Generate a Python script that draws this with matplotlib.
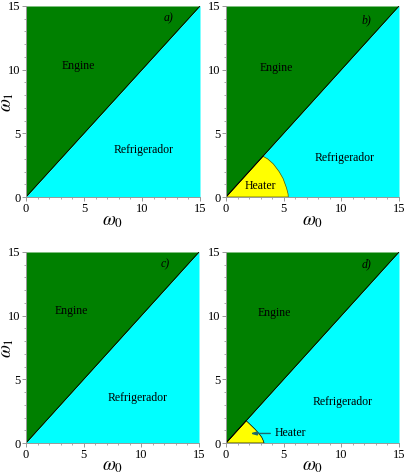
import matplotlib
matplotlib.use("Agg")
import matplotlib.pyplot as plt
import numpy as np
from matplotlib.ticker import MultipleLocator

plt.rcParams['font.family'] = ['Liberation Serif', 'DejaVu Serif']
plt.rcParams['mathtext.fontset'] = 'stix'

# Data
lim = [0, 15]
diag_w0 = [0, 15]
diag_w1 = [0, 15]
ticks = [0, 5, 10, 15]
panel_labels = ['a)', 'b)', 'c)', 'd)']

# Heater boundaries (omega0, omega1)
heater_b_w0 = [0, 3.2, 3.6, 4.1, 4.6, 4.95, 5.25, 5.38, 5.4]
heater_b_w1 = [0, 3.2, 3.0, 2.6, 2.0, 1.45, 0.7, 0.25, 0]
heater_d_w0 = [0, 1.75, 2.1, 2.5, 2.85, 3.1, 3.25, 3.3]
heater_d_w1 = [0, 1.75, 1.45, 1.1, 0.75, 0.45, 0.15, 0]

# label positions (data coords)
engine_pos = [(4.5, 10.3), (4.4, 10.1), (3.9, 10.4), (4.2, 10.2)]
refr_pos = [(10.1, 3.7), (10.3, 3.1), (9.7, 3.5), (10.1, 3.2)]
tag_pos = [(12.3, 14.0), (12.2, 13.9), (12.1, 14.0), (12.2, 14.0)]

GREEN = '#008000'
CYAN = '#00ffff'
YELLOW = '#ffff00'

fig = plt.figure(figsize=(4.07, 4.75), dpi=100)
W, H = 407, 475
boxes = [(26, 6, 200, 197), (226, 6, 399, 197), (26, 252, 199, 443), (226, 252, 399, 443)]
axes = []
for (x0, y0, x1, y1) in boxes:
    ax = fig.add_axes([x0 / W, 1 - y1 / H, (x1 - x0) / W, (y1 - y0) / H])
    axes.append(ax)

x = np.array(diag_w0, dtype=float)
for i, ax in enumerate(axes):
    ax.fill_between(x, np.array(diag_w1), lim[1], color=GREEN, linewidth=0)
    ax.fill_between(x, lim[0], np.array(diag_w1), color=CYAN, linewidth=0)
    ax.plot(diag_w0, diag_w1, color='black', lw=0.6)
    ax.set_xlim(lim)
    ax.set_ylim(lim)
    ax.set_xticks(ticks)
    ax.set_yticks(ticks)
    ax.xaxis.set_minor_locator(MultipleLocator(1))
    ax.yaxis.set_minor_locator(MultipleLocator(1))
    ax.tick_params(which='major', length=3, width=0.6, color='#888888', labelsize=9, pad=1)
    ax.tick_params(which='minor', length=1.5, width=0.5, color='#888888')
    for s in ['top', 'right']:
        ax.spines[s].set_visible(False)
    for s in ['left', 'bottom']:
        ax.spines[s].set_color('#999999')
        ax.spines[s].set_linewidth(0.7)
    ax.set_xlabel(r'$\omega_0$', fontsize=13.5)
    ax.xaxis.set_label_coords(0.5, -0.085 if i < 2 else -0.08)
    if i in (0, 2):
        ax.set_ylabel(r'$\omega_1$', fontsize=13.5)
        ax.yaxis.set_label_coords(-0.055, 0.5)
    ax.text(*engine_pos[i], 'Engine', fontsize=8.5, ha='center', va='center')
    ax.text(*refr_pos[i], 'Refrigerador', fontsize=8.5, ha='center', va='center')
    ax.text(*tag_pos[i], panel_labels[i], fontsize=8.5, style='italic', ha='center', va='center')

axes[1].fill(heater_b_w0, heater_b_w1, color=YELLOW, ec='#555500', lw=0.5)
axes[1].plot([0, 3.2], [0, 3.2], color='black', lw=0.6)
axes[1].text(2.95, 0.9, 'Heater', fontsize=8.5, ha='center', va='center')

axes[3].fill(heater_d_w0, heater_d_w1, color=YELLOW, ec='black', lw=0.5)
axes[3].plot([0, 1.75], [0, 1.75], color='black', lw=0.6)
axes[3].annotate('Heater', xy=(2.1, 0.75), xytext=(4.2, 0.75), fontsize=8.5,
                 va='center', ha='left',
                 arrowprops=dict(arrowstyle='-|>,head_length=0.4,head_width=0.12',
                                 color='#1f6a6a', lw=1.0, shrinkA=1, shrinkB=0))

fig.savefig('out.png', dpi=100)
